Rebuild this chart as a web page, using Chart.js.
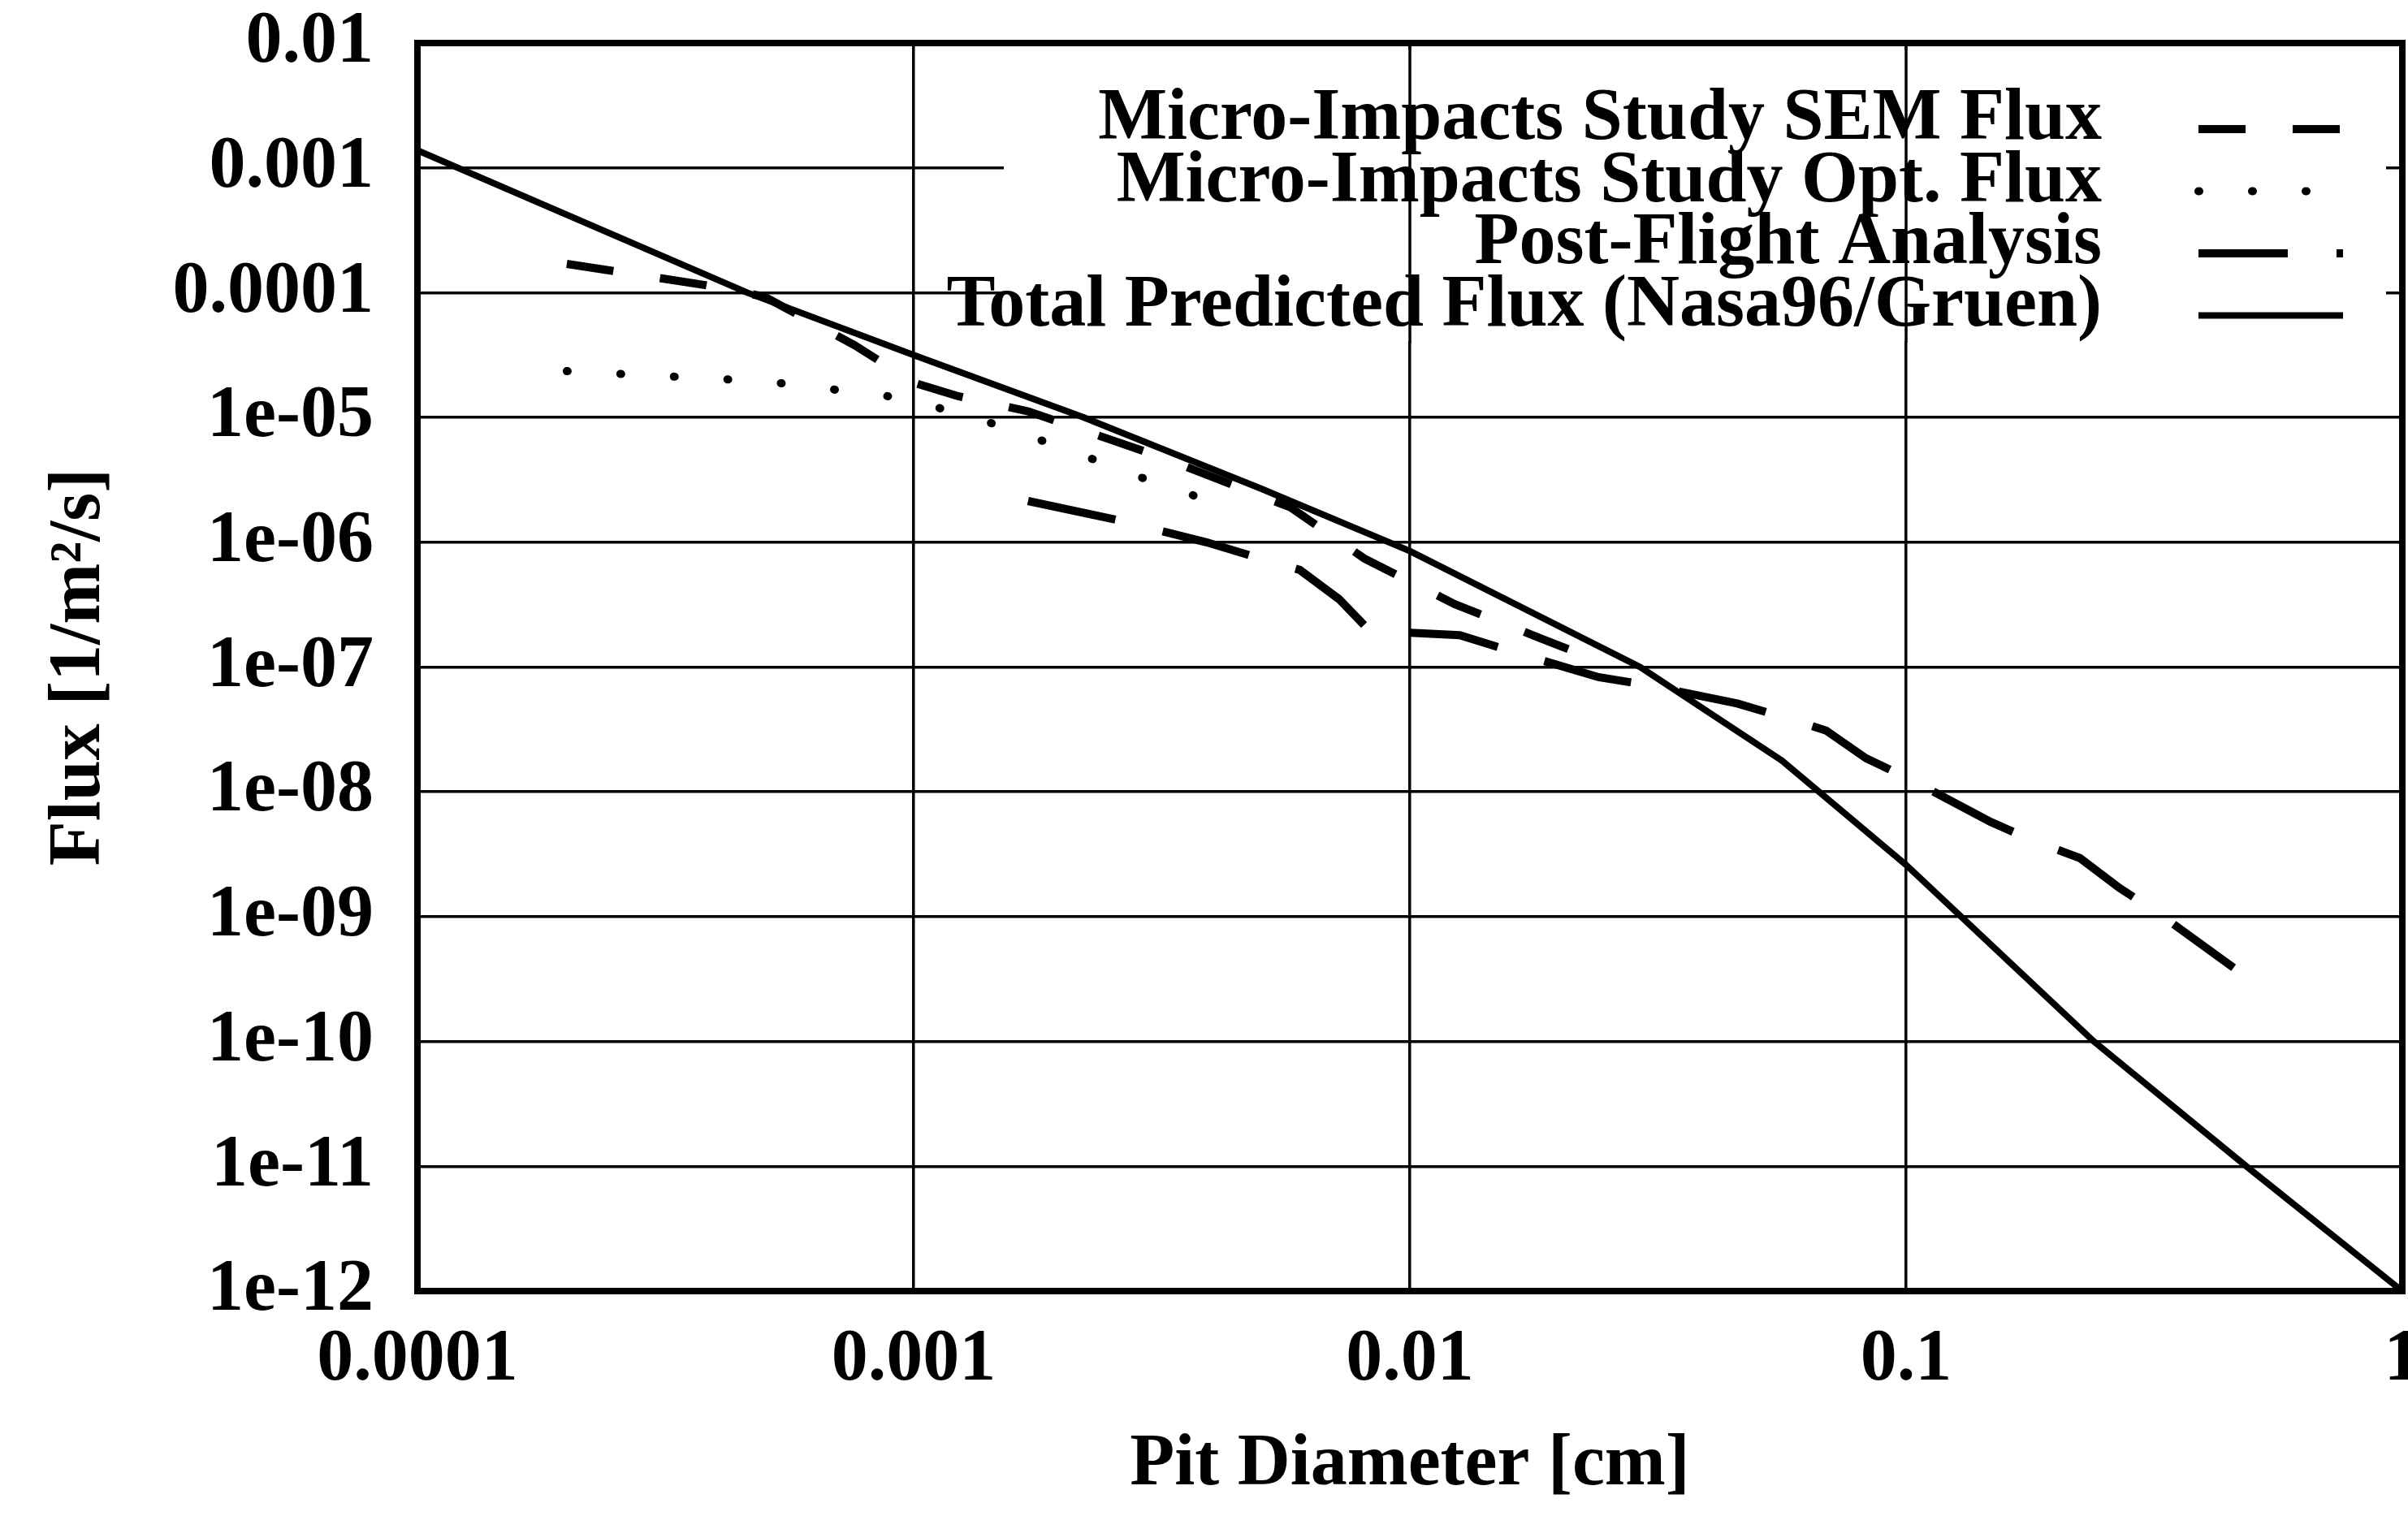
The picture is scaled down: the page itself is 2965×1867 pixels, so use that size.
<!DOCTYPE html>
<html lang="en">
<head>
<meta charset="UTF-8">
<title>Flux vs Pit Diameter</title>
<script src="https://cdn.jsdelivr.net/npm/chart.js"></script>
<style>
  html, body { margin: 0; padding: 0; background: #fff; }
  canvas { display: block; }
</style>
</head>
<body>
<canvas id="flux-chart" width="2965" height="1867"></canvas>
<script>
// values: pit diameter in cm, flux in 1/m^2/s
const seriesNames = [
    'Micro-Impacts Study SEM Flux',
    'Micro-Impacts Study Opt. Flux',
    'Post-Flight Analysis',
    'Total Predicted Flux (Nasa96/Gruen)'
];

const semX = [2.0e-4, 3.8e-4, 5.0e-4, 7.6e-4, 1.0e-3, 1.23e-3, 1.7e-3, 3.16e-3, 5.75e-3, 8.1e-3, 0.0123, 0.0186, 0.024];
const semY = [1.7e-4, 1.15e-4, 9.3e-5, 3.8e-5, 1.9e-5, 1.48e-5, 1.12e-5, 4.8e-6, 1.9e-6, 7.4e-7, 3.2e-7, 1.66e-7, 1.12e-7];

const optX = [2.0e-4, 5.0e-4, 8.7e-4, 1.0e-3, 1.4e-3, 2.0e-3, 3.0e-3, 4.5e-3];
const optY = [2.35e-5, 1.95e-5, 1.5e-5, 1.36e-5, 9.3e-6, 5.7e-6, 3.1e-6, 1.8e-6];

const postX = [1.7e-3, 2.57e-3, 3.89e-3, 4.9e-3, 6.0e-3, 7.2e-3, 8.3e-3, 0.0126, 0.0162, 0.024, 0.030,
               0.0457, 0.0575, 0.069, 0.083, 0.102, 0.148, 0.182, 0.224, 0.269, 0.324, 0.457];
const postY = [2.14e-6, 1.51e-6, 1.0e-6, 7.6e-7, 6.0e-7, 3.5e-7, 1.95e-7, 1.8e-7, 1.32e-7, 8.3e-8, 7.2e-8,
               5.1e-8, 3.9e-8, 3.1e-8, 1.86e-8, 1.26e-8, 5.75e-9, 4.0e-9, 2.95e-9, 1.7e-9, 1.05e-9, 3.9e-10];

const totalX = [1e-4, 4.62e-4, 1e-3, 2.2e-3, 5e-3, 0.01, 0.0291, 0.0562, 0.1, 0.239, 0.485, 1];
const totalY = [1.38e-3, 1e-4, 3.16e-5, 1e-5, 2.7e-6, 8.5e-7, 1e-7, 1.78e-8, 2.6e-9, 1e-10, 1e-11, 1e-12];

const xTickValues = [1e-4, 1e-3, 1e-2, 1e-1, 1];
const xTickLabels = ['0.0001', '0.001', '0.01', '0.1', '1'];
const yTickValues = [1e-2, 1e-3, 1e-4, 1e-5, 1e-6, 1e-7, 1e-8, 1e-9, 1e-10, 1e-11, 1e-12];
const yTickLabels = ['0.01', '0.001', '0.0001', '1e-05', '1e-06', '1e-07', '1e-08', '1e-09', '1e-10', '1e-11', '1e-12'];

const FONT = { family: "'Liberation Serif', 'Times New Roman', serif", size: 90, weight: 'bold' };

function toPoints(xs, ys) {
    return xs.map((x, i) => ({ x: x, y: ys[i] }));
}

function labelFor(values, labels, v) {
    const i = values.findIndex(t => Math.abs(Math.log10(t) - Math.log10(v)) < 1e-6);
    return i >= 0 ? labels[i] : '';
}

// gnuplot style key: text right aligned, line sample to the right
const keyPlugin = {
    id: 'keyPlugin',
    beforeDatasetsDraw(chart) {
        const { ctx, chartArea, scales } = chart;
        // the key box hides the horizontal grid lines behind it
        ctx.save();
        ctx.fillStyle = '#fff';
        ctx.fillRect(1236, chartArea.top + 8, chartArea.right - 20 - 1236, 420 - chartArea.top - 8);
        ctx.strokeStyle = '#000';
        ctx.lineWidth = 3.5;
        [1e-2, 1e-1].forEach(v => {
            const px = scales.x.getPixelForValue(v);
            ctx.beginPath();
            ctx.moveTo(px, chartArea.top);
            ctx.lineTo(px, 422);
            ctx.stroke();
        });
        ctx.restore();
    },
    afterDraw(chart) {
        const { ctx, chartArea } = chart;
        ctx.save();
        chart.data.datasets.forEach((ds, i) => {
            const base = 171 + i * 76.5;
            ctx.font = `${FONT.weight} ${FONT.size}px ${FONT.family}`;
            ctx.fillStyle = '#000';
            ctx.textAlign = 'right';
            ctx.textBaseline = 'alphabetic';
            ctx.fillText(ds.label, 2588, base);

            ctx.strokeStyle = ds.borderColor;
            ctx.lineWidth = ds.borderWidth;
            ctx.lineCap = ds.borderCapStyle || 'butt';
            ctx.setLineDash(ds.borderDash || []);
            ctx.beginPath();
            ctx.moveTo(2707, base - 12);
            ctx.lineTo(2885, base - 12);
            ctx.stroke();
        });
        ctx.setLineDash([]);
        ctx.lineWidth = 8;
        ctx.strokeStyle = '#000';
        ctx.strokeRect(chartArea.left, chartArea.top, chartArea.right - chartArea.left, chartArea.bottom - chartArea.top);
        ctx.restore();
    }
};

const ctx = document.getElementById('flux-chart').getContext('2d');
new Chart(ctx, {
    type: 'line',
    data: {
        datasets: [
            {
                label: seriesNames[0],
                data: toPoints(semX, semY),
                borderColor: '#000',
                borderWidth: 10,
                borderDash: [58, 58]
            },
            {
                label: seriesNames[1],
                data: toPoints(optX, optY),
                borderColor: '#000',
                borderWidth: 10,
                borderDash: [1, 65],
                borderCapStyle: 'round'
            },
            {
                label: seriesNames[2],
                data: toPoints(postX, postY),
                borderColor: '#000',
                borderWidth: 10,
                borderDash: [110, 60]
            },
            {
                label: seriesNames[3],
                data: toPoints(totalX, totalY),
                borderColor: '#000',
                borderWidth: 8
            }
        ]
    },
    options: {
        responsive: false,
        animation: false,
        devicePixelRatio: 1,
        parsing: false,
        elements: {
            point: { radius: 0 },
            line: { tension: 0, fill: false }
        },
        layout: { autoPadding: false, padding: { top: 53, right: 7, left: 0, bottom: 0 } },
        plugins: {
            legend: { display: false },
            tooltip: { enabled: false }
        },
        scales: {
            x: {
                type: 'logarithmic',
                position: 'bottom',
                min: 1e-4,
                max: 1,
                afterBuildTicks: s => { s.ticks = xTickValues.map(v => ({ value: v })); },
                afterFit: s => {
                    s.height = 277;
                    s.paddingLeft = 0;
                    s.paddingRight = 0;
                },
                ticks: {
                    callback: v => labelFor(xTickValues, xTickLabels, v),
                    font: FONT,
                    color: '#000',
                    padding: 32,
                    maxRotation: 0,
                    autoSkip: false
                },
                grid: { color: '#000', lineWidth: 3.5, drawTicks: false },
                border: { display: false },
                title: {
                    display: true,
                    text: 'Pit Diameter [cm]',
                    font: FONT,
                    color: '#000',
                    padding: { bottom: 8 }
                }
            },
            y: {
                type: 'logarithmic',
                position: 'left',
                min: 1e-12,
                max: 1e-2,
                afterBuildTicks: s => { s.ticks = yTickValues.map(v => ({ value: v })); },
                afterFit: s => {
                    s.width = 514;
                    s.paddingTop = 0;
                    s.paddingBottom = 0;
                },
                ticks: {
                    callback: v => labelFor(yTickValues, yTickLabels, v),
                    font: FONT,
                    color: '#000',
                    padding: 54,
                    autoSkip: false
                },
                grid: { color: '#000', lineWidth: 3.5, drawTicks: false },
                border: { display: false },
                title: {
                    display: true,
                    text: 'Flux [1/m²/s]',
                    font: FONT,
                    color: '#000',
                    padding: { top: 45 }
                }
            }
        }
    },
    plugins: [keyPlugin]
});
</script>
</body>
</html>
